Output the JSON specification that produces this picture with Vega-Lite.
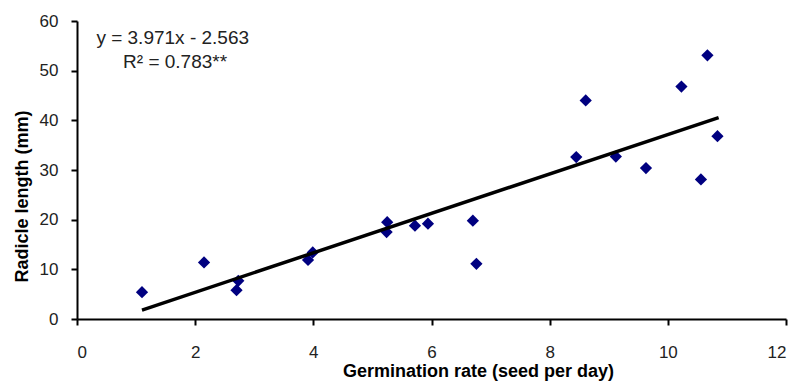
{
  "$schema": "https://vega.github.io/schema/vega-lite/v6.json",
  "width": 709,
  "height": 298,
  "autosize": {"type": "none"},
  "padding": {"left": 77, "top": 21, "right": 9, "bottom": 64},
  "background": "white",
  "config": {
    "view": {"stroke": null},
    "font": "Liberation Sans",
    "axis": {
      "grid": false,
      "domainColor": "black",
      "domainWidth": 2,
      "tickColor": "black",
      "tickWidth": 2,
      "tickSize": 6,
      "labelFont": "Liberation Sans",
      "labelFontSize": 17,
      "labelColor": "#222222",
      "titleFont": "Liberation Sans",
      "titleFontSize": 18,
      "titleFontWeight": "bold",
      "titleColor": "black"
    }
  },
  "datasets": {
    "pts": [
      {"rate": 1.10, "len": 5.4},
      {"rate": 2.15, "len": 11.4},
      {"rate": 2.73, "len": 7.7},
      {"rate": 2.70, "len": 5.8},
      {"rate": 3.91, "len": 11.9},
      {"rate": 3.99, "len": 13.4},
      {"rate": 5.25, "len": 19.5},
      {"rate": 5.24, "len": 17.5},
      {"rate": 5.72, "len": 18.8},
      {"rate": 5.94, "len": 19.2},
      {"rate": 6.70, "len": 19.8},
      {"rate": 6.76, "len": 11.1},
      {"rate": 8.61, "len": 44.0},
      {"rate": 8.45, "len": 32.6},
      {"rate": 9.12, "len": 32.7},
      {"rate": 9.63, "len": 30.4},
      {"rate": 10.23, "len": 46.8},
      {"rate": 10.67, "len": 53.1},
      {"rate": 10.84, "len": 36.8},
      {"rate": 10.56, "len": 28.1}
    ],
    "fit": [
      {"rate": 1.1, "len": 1.805},
      {"rate": 10.86, "len": 40.56}
    ],
    "notes": [
      {"rate": 1.62, "len": 56.5, "label": "y = 3.971x - 2.563"},
      {"rate": 1.66, "len": 51.7, "label": "R² = 0.783**"}
    ]
  },
  "layer": [
    {
      "data": {"name": "pts"},
      "mark": {"type": "point", "shape": "diamond", "filled": true, "color": "#000080", "size": 150, "opacity": 1},
      "encoding": {
        "x": {
          "field": "rate", "type": "quantitative",
          "scale": {"domain": [0, 12], "nice": false, "zero": false},
          "axis": {"values": [0, 2, 4, 6, 8, 10, 12], "format": "d", "labelPadding": 19, "title": "Germination rate (seed per day)", "titlePadding": 2, "titleX": 401}
        },
        "y": {
          "field": "len", "type": "quantitative",
          "scale": {"domain": [0, 60], "nice": false},
          "axis": {"values": [0, 10, 20, 30, 40, 50, 60], "format": "d", "labelPadding": 13, "title": "Radicle length (mm)", "titlePadding": 8, "titleY": 175}
        }
      }
    },
    {
      "data": {"name": "fit"},
      "mark": {"type": "line", "color": "black", "strokeWidth": 3.5},
      "encoding": {
        "x": {"field": "rate", "type": "quantitative"},
        "y": {"field": "len", "type": "quantitative"}
      }
    },
    {
      "data": {"name": "notes"},
      "mark": {"type": "text", "fontSize": 19, "font": "Liberation Sans", "color": "#222222", "align": "center", "baseline": "middle"},
      "encoding": {
        "x": {"field": "rate", "type": "quantitative"},
        "y": {"field": "len", "type": "quantitative"},
        "text": {"field": "label"}
      }
    }
  ]
}
